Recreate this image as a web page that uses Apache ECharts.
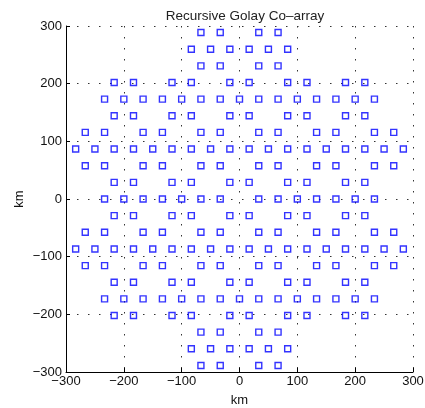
<!DOCTYPE html>
<html>
<head>
<meta charset="utf-8">
<script src="https://cdn.jsdelivr.net/npm/echarts@6/dist/echarts.min.js"></script>
<style>
html,body{margin:0;padding:0;background:#fff;}
#chart{width:425px;height:408px;}
</style>
</head>
<body>
<div id="chart"></div>
<script>
// Row y positions (km), top to bottom
const rowY = [288.7, 259.8, 230.9, 202.1, 173.2, 144.3, 115.5, 86.6, 57.7, 28.9, 0,
              -28.9, -57.7, -86.6, -115.5, -144.3, -173.2, -202.1, -230.9, -259.8, -288.7];
// x positions (km) of squares in each row pattern
const rowA = [-66.7, -33.3, 33.3, 66.7];
const rowB = [-83.3, -50, -16.7, 16.7, 50, 83.3];
const rowC = [-216.7, -183.3, -116.7, -83.3, -16.7, 16.7, 83.3, 116.7, 183.3, 216.7];
const rowD = [-233.3, -200, -166.7, -133.3, -100, -66.7, -33.3, 0, 33.3, 66.7, 100, 133.3, 166.7, 200, 233.3];
const rowE = [-266.7, -233.3, -166.7, -133.3, -66.7, -33.3, 33.3, 66.7, 133.3, 166.7, 233.3, 266.7];
const rowF = [-283.3, -250, -216.7, -183.3, -150, -116.7, -83.3, -50, -16.7, 16.7, 50, 83.3, 116.7, 150, 183.3, 216.7, 250, 283.3];
const rowG = [-233.3, -200, -166.7, -133.3, -100, -66.7, -33.3, 33.3, 66.7, 100, 133.3, 166.7, 200, 233.3];
// which pattern each row uses (same order as rowY)
const rowPattern = [rowA, rowB, rowA, rowC, rowD, rowC, rowE, rowF, rowE, rowC, rowG,
                    rowC, rowE, rowF, rowE, rowC, rowD, rowC, rowA, rowB, rowA];
const ticks = [-300, -200, -100, 0, 100, 200, 300];

const points = [];
rowY.forEach((y, i) => rowPattern[i].forEach(x => points.push([x, y])));

const font = 'Liberation Sans, Arial, Helvetica, sans-serif';
const fmt = v => String(v).replace('-', '\u2212');
const gridLine = {show: true, lineStyle: {color: '#333', width: 1, type: [1.5, 9.5]}};

const chart = echarts.init(document.getElementById('chart'), null, {renderer: 'canvas'});
chart.setOption({
  animation: false,
  backgroundColor: '#fff',
  title: {
    text: 'Recursive Golay Co\u2013array',
    left: 240, top: 4, textAlign: 'center',
    textStyle: {fontFamily: font, fontSize: 13.5, fontWeight: 'normal', color: '#222'}
  },
  grid: {left: 66, top: 26, width: 347, height: 346, containLabel: false, outerBoundsMode: 'none'},
  xAxis: {
    type: 'value', min: ticks[0], max: ticks[ticks.length - 1], interval: 100,
    name: 'km', nameLocation: 'middle', nameGap: 22, nameMoveOverlap: false,
    nameTextStyle: {fontFamily: font, fontSize: 13, color: '#111'},
    axisLine: {show: true, onZero: false, lineStyle: {color: '#000', width: 1}},
    axisTick: {show: true, inside: true, length: 4, lineStyle: {color: '#000'}},
    axisLabel: {fontFamily: font, fontSize: 13, color: '#111', margin: 3, formatter: fmt},
    splitLine: gridLine
  },
  yAxis: {
    type: 'value', min: ticks[0], max: ticks[ticks.length - 1], interval: 100,
    name: 'km', nameLocation: 'middle', nameGap: 40, nameMoveOverlap: false,
    nameTextStyle: {fontFamily: font, fontSize: 13, color: '#111'},
    axisLine: {show: true, onZero: false, lineStyle: {color: '#000', width: 1}},
    axisTick: {show: true, inside: true, length: 4, lineStyle: {color: '#000'}},
    axisLabel: {fontFamily: font, fontSize: 13, color: '#111', margin: 4, formatter: fmt},
    splitLine: gridLine
  },
  series: [{
    type: 'scatter',
    data: points,
    symbol: 'rect',
    symbolSize: 6,
    itemStyle: {color: 'rgba(0,0,0,0)', borderColor: '#0000ff', borderWidth: 1.4},
    emphasis: {disabled: true}
  }]
});
</script>
</body>
</html>
